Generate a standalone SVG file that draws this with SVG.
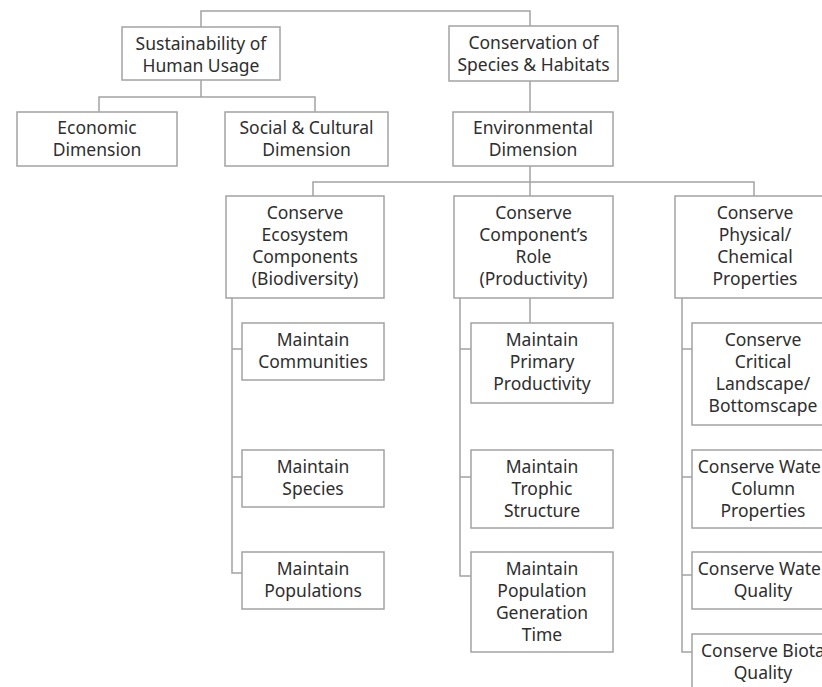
<svg xmlns="http://www.w3.org/2000/svg" width="822" height="687" viewBox="0 0 822 687">
<style>
  .box { fill: #ffffff; stroke: #a3a3a3; stroke-width: 1.5; }
  .lbl { font-family: "Noto Sans", "Open Sans", sans-serif; font-size: 17.5px; fill: #2e2e2e; text-anchor: middle; }
  .con { fill: none; stroke: #a3a3a3; stroke-width: 1.5; }
</style>
<rect width="822" height="687" fill="#ffffff"/>
<g id="connectors">
  <path class="con" d="M201 27 V11 H530 V26"/>
  <path class="con" d="M201 80 V97 M99 112 V97 H315 V112"/>
  <path class="con" d="M530 81 V112"/>
  <path class="con" d="M530 166 V182 M313 196 V182 H754 V196 M530 182 V196"/>
  <path class="con" d="M232 298 V573 H242 M232 349 H242 M232 477 H242"/>
  <path class="con" d="M530 298 V323 M460 298 V576 H471 M460 349 H471 M460 477 H471"/>
  <path class="con" d="M682 298 V652 H692 M682 349 H692 M682 477 H692 M682 575 H692"/>
</g>
<g id="n-sustainability">
  <rect class="box" x="122" y="27" width="158" height="53"/>
  <text class="lbl" x="201" y="49.5"><tspan x="201">Sustainability of</tspan><tspan x="201" dy="22">Human Usage</tspan></text>
</g>
<g id="n-conservation">
  <rect class="box" x="449" y="26" width="169" height="55"/>
  <text class="lbl" x="533.5" y="49"><tspan x="533.5">Conservation of</tspan><tspan x="533.5" dy="22">Species &amp; Habitats</tspan></text>
</g>
<g id="n-economic">
  <rect class="box" x="17" y="112" width="160" height="54"/>
  <text class="lbl" x="97" y="134"><tspan x="97">Economic</tspan><tspan x="97" dy="22">Dimension</tspan></text>
</g>
<g id="n-social">
  <rect class="box" x="225" y="112" width="163" height="54"/>
  <text class="lbl" x="306.5" y="134"><tspan x="306.5">Social &amp; Cultural</tspan><tspan x="306.5" dy="22">Dimension</tspan></text>
</g>
<g id="n-environmental">
  <rect class="box" x="453" y="112" width="160" height="54"/>
  <text class="lbl" x="533" y="134"><tspan x="533">Environmental</tspan><tspan x="533" dy="22">Dimension</tspan></text>
</g>
<g id="n-biodiversity">
  <rect class="box" x="226" y="196" width="158" height="102"/>
  <text class="lbl" x="305" y="219"><tspan x="305">Conserve</tspan><tspan x="305" dy="22">Ecosystem</tspan><tspan x="305" dy="22">Components</tspan><tspan x="305" dy="22">(Biodiversity)</tspan></text>
</g>
<g id="n-productivity">
  <rect class="box" x="454" y="196" width="159" height="102"/>
  <text class="lbl" x="533.5" y="219"><tspan x="533.5">Conserve</tspan><tspan x="533.5" dy="22">Component’s</tspan><tspan x="533.5" dy="22">Role</tspan><tspan x="533.5" dy="22">(Productivity)</tspan></text>
</g>
<g id="n-physical">
  <rect class="box" x="675" y="196" width="160" height="102"/>
  <text class="lbl" x="755" y="219"><tspan x="755">Conserve</tspan><tspan x="755" dy="22">Physical/</tspan><tspan x="755" dy="22">Chemical</tspan><tspan x="755" dy="22">Properties</tspan></text>
</g>
<g id="n-communities">
  <rect class="box" x="242" y="323" width="142" height="57"/>
  <text class="lbl" x="313" y="346"><tspan x="313">Maintain</tspan><tspan x="313" dy="22">Communities</tspan></text>
</g>
<g id="n-species">
  <rect class="box" x="242" y="450" width="142" height="57"/>
  <text class="lbl" x="313" y="473"><tspan x="313">Maintain</tspan><tspan x="313" dy="22">Species</tspan></text>
</g>
<g id="n-populations">
  <rect class="box" x="242" y="552" width="142" height="57"/>
  <text class="lbl" x="313" y="575"><tspan x="313">Maintain</tspan><tspan x="313" dy="22">Populations</tspan></text>
</g>
<g id="n-primary">
  <rect class="box" x="471" y="323" width="142" height="80"/>
  <text class="lbl" x="542" y="346"><tspan x="542">Maintain</tspan><tspan x="542" dy="22">Primary</tspan><tspan x="542" dy="22">Productivity</tspan></text>
</g>
<g id="n-trophic">
  <rect class="box" x="471" y="450" width="142" height="78"/>
  <text class="lbl" x="542" y="473"><tspan x="542">Maintain</tspan><tspan x="542" dy="22">Trophic</tspan><tspan x="542" dy="22">Structure</tspan></text>
</g>
<g id="n-generation">
  <rect class="box" x="471" y="552" width="142" height="100"/>
  <text class="lbl" x="542" y="575"><tspan x="542">Maintain</tspan><tspan x="542" dy="22">Population</tspan><tspan x="542" dy="22">Generation</tspan><tspan x="542" dy="22">Time</tspan></text>
</g>
<g id="n-landscape">
  <rect class="box" x="692" y="323" width="142" height="102"/>
  <text class="lbl" x="763" y="346"><tspan x="763">Conserve</tspan><tspan x="763" dy="22">Critical</tspan><tspan x="763" dy="22">Landscape/</tspan><tspan x="763" dy="22">Bottomscape</tspan></text>
</g>
<g id="n-watercolumn">
  <rect class="box" x="692" y="450" width="142" height="78"/>
  <text class="lbl" x="763" y="473"><tspan x="763">Conserve Water</tspan><tspan x="763" dy="22">Column</tspan><tspan x="763" dy="22">Properties</tspan></text>
</g>
<g id="n-waterquality">
  <rect class="box" x="692" y="552" width="142" height="57"/>
  <text class="lbl" x="763" y="575"><tspan x="763">Conserve Water</tspan><tspan x="763" dy="22">Quality</tspan></text>
</g>
<g id="n-biota">
  <rect class="box" x="692" y="634" width="142" height="70"/>
  <text class="lbl" x="763" y="657"><tspan x="763">Conserve Biota</tspan><tspan x="763" dy="22">Quality</tspan></text>
</g>
</svg>
